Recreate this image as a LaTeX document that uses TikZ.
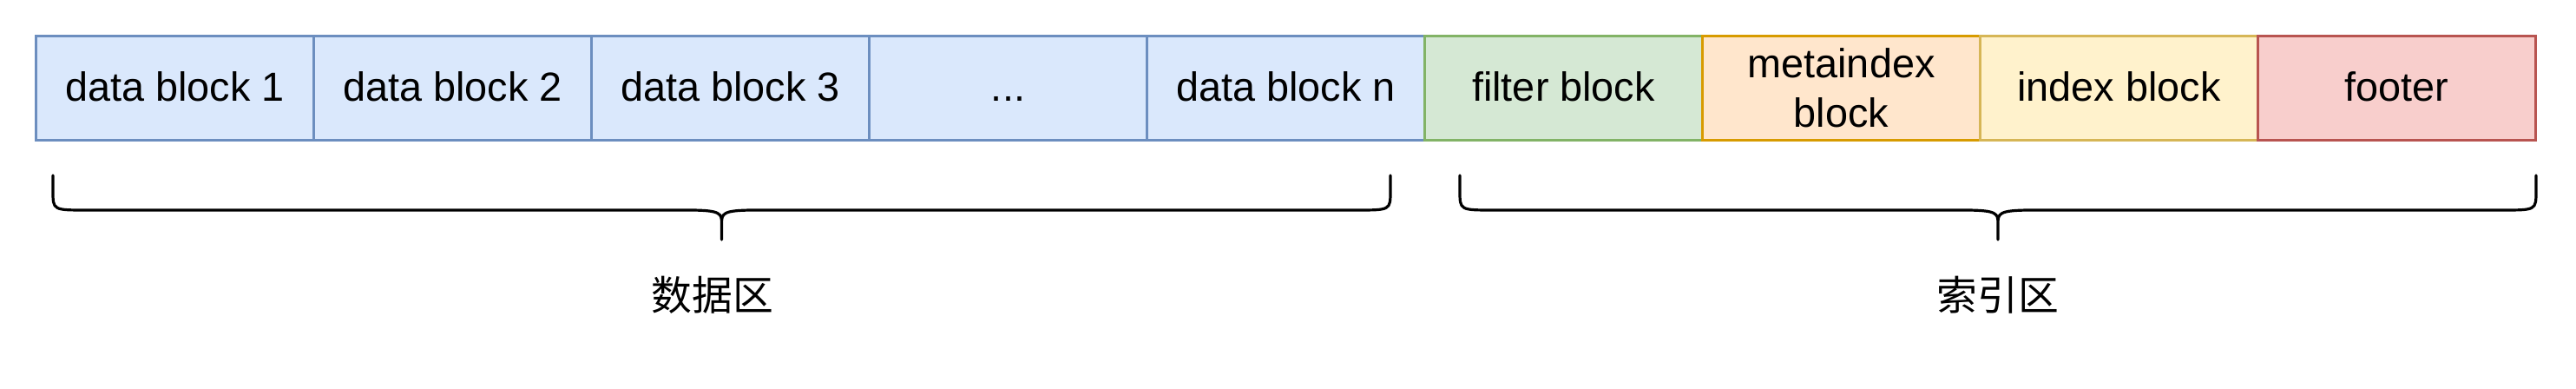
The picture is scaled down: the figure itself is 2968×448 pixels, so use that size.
\documentclass[tikz,border=0pt]{standalone}
\usepackage{fontspec}
\setmainfont{Liberation Sans}
\newfontfamily\cjk{Noto Sans CJK SC}
\definecolor{bluefill}{HTML}{DAE8FC}\definecolor{bluedraw}{HTML}{6C8EBF}
\definecolor{greenfill}{HTML}{D5E8D4}\definecolor{greendraw}{HTML}{82B366}
\definecolor{orangefill}{HTML}{FFE6CC}\definecolor{orangedraw}{HTML}{D79B00}
\definecolor{yellowfill}{HTML}{FFF2CC}\definecolor{yellowdraw}{HTML}{D6B656}
\definecolor{redfill}{HTML}{F8CECC}\definecolor{reddraw}{HTML}{B85450}
\begin{document}
\begin{tikzpicture}[x=0.5pt,y=-0.5pt,
  blk/.style={draw, line width=1.5pt, minimum width=160pt, minimum height=60pt,
    inner sep=0pt, align=center, font=\fontsize{23.4}{28.5}\selectfont},
  oneline/.style={text height=16.8pt, text depth=1.3pt},
  bluebox/.style={blk, oneline, fill=bluefill, draw=bluedraw},
  greenbox/.style={blk, oneline, fill=greenfill, draw=greendraw},
  orangebox/.style={blk, fill=orangefill, draw=orangedraw},
  yellowbox/.style={blk, oneline, fill=yellowfill, draw=yellowdraw},
  redbox/.style={blk, oneline, fill=redfill, draw=reddraw},
  brace/.style={draw, line width=1.6pt, line cap=round, line join=round},
  lbl/.style={font=\cjk\fontsize{23.4}{28}\selectfont, inner sep=0pt}]
\useasboundingbox (0,0) rectangle (2968,448);
\node[bluebox] (b1) at (201.5,101.5) {data block 1};
\node[bluebox] (b2) at (521.5,101.5) {data block 2};
\node[bluebox] (b3) at (841.5,101.5) {data block 3};
\node[bluebox] (b4) at (1161.5,101.5) {.\kern0.5pt.\kern0.5pt.};
\node[bluebox] (b5) at (1481.5,101.5) {data block n};
\node[greenbox] (f) at (1801.5,101.5) {filter block};
\node[orangebox] (m) at (2121.5,101.5) {metaindex\\block};
\node[yellowbox] (ix) at (2441.5,101.5) {index block};
\node[redbox] (ft) at (2761.5,101.5) {footer};
% data brace
\coordinate (la) at (61,202);
\coordinate (lb) at (1602,202);
\coordinate (lm) at (831.5,276);
\draw[brace] (la) -- (61,220) .. controls (61,242) .. (100,242) -- (793,242)
  .. controls (831.5,242) and (831.5,246) .. (831.5,258) -- (lm)
  (831.5,258) .. controls (831.5,246) and (831.5,242) .. (870,242) -- (1563,242)
  .. controls (1602,242) .. (1602,220) -- (lb);
% index brace
\coordinate (ra) at (1682,202);
\coordinate (rb) at (2922,202);
\coordinate (rm) at (2302,276);
\draw[brace] (ra) -- (1682,220) .. controls (1682,242) .. (1721,242) -- (2263,242)
  .. controls (2302,242) and (2302,246) .. (2302,258) -- (rm)
  (2302,258) .. controls (2302,246) and (2302,242) .. (2341,242) -- (2883,242)
  .. controls (2922,242) .. (2922,220) -- (rb);
\node[lbl] (t1) at (821,340) {数据区};
\node[lbl] (t2) at (2302,340) {索引区};
\end{tikzpicture}
\end{document}
